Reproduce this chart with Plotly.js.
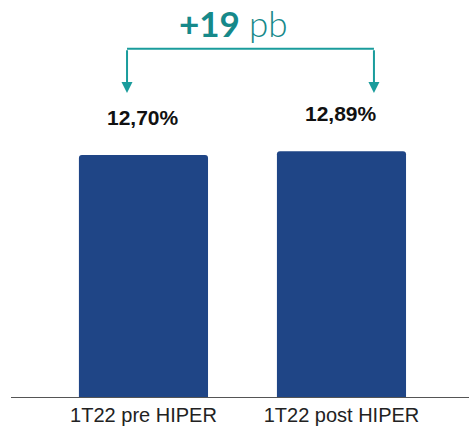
<!DOCTYPE html>
<html><head><meta charset="utf-8">
<script src="https://cdn.plot.ly/plotly-3.0.1.min.js"></script>
<style>html,body{margin:0;padding:0;background:#fff}</style>
</head><body><div id="chart" style="width:469px;height:427px"></div>
<script>
const categories = ["1T22 pre HIPER", "1T22 post HIPER"];
const values = [12.70, 12.89];
const deltaLabel = "+19";
const deltaUnit = "pb";

const barColor = "#1f4586";
const teal = "#1a9c9c";

function fmt(v){ return v.toFixed(2).replace(".", ",") + "%"; }

const yBracket = 18.27, yTip = 15.95;
const xLeft = -0.083, xRight = 1.164;

const data = [{
  type: "bar", x: [0, 1], y: values,
  marker: {color: barColor, cornerradius: 3},
  width: 0.652, hoverinfo: "skip"
}];

const annotations = values.map((v, i) => ({
  x: i, y: v, xref: "x", yref: "y", text: "<b>" + fmt(v) + "</b>",
  showarrow: false, yanchor: "bottom", yshift: 24,
  font: {family: "Liberation Sans", size: 21, color: "#111"}
}));
[xLeft, xRight].forEach(x => annotations.push({
  x: x, y: yTip, ax: x, ay: yBracket, xref: "x", yref: "y", axref: "x", ayref: "y",
  text: "", showarrow: true, arrowhead: 2, arrowsize: 1.1, arrowwidth: 2, arrowcolor: teal
}));
annotations.push({
  x: (xLeft + xRight) / 2, y: yBracket, xref: "x", yref: "y",
  text: "<b>" + deltaLabel + "</b> <span style=\"font-weight:300\">" + deltaUnit + "</span>",
  showarrow: false, yanchor: "bottom", yshift: 3, xshift: -17,
  font: {family: "Lato", size: 35, color: "#16898a"}
});

const layout = {
  width: 469, height: 427,
  margin: {l: 11, r: 0, t: 0, b: 30},
  paper_bgcolor: "#fff", plot_bgcolor: "#fff",
  showlegend: false,
  xaxis: {
    range: [-0.669, 1.644], tickvals: [0, 1], ticktext: categories,
    showline: true, linecolor: "#555", linewidth: 1, showgrid: false, zeroline: false,
    ticks: "", tickfont: {family: "Liberation Sans", size: 20, color: "#222"}, fixedrange: true
  },
  yaxis: {range: [0, 20.83], visible: false, showgrid: false, zeroline: false, fixedrange: true},
  shapes: [{type: "line", xref: "x", yref: "y", x0: xLeft, x1: xRight, y0: yBracket, y1: yBracket,
    line: {color: teal, width: 2}}],
  annotations: annotations
};
Plotly.newPlot("chart", data, layout, {displayModeBar: false, staticPlot: true});
</script></body></html>
